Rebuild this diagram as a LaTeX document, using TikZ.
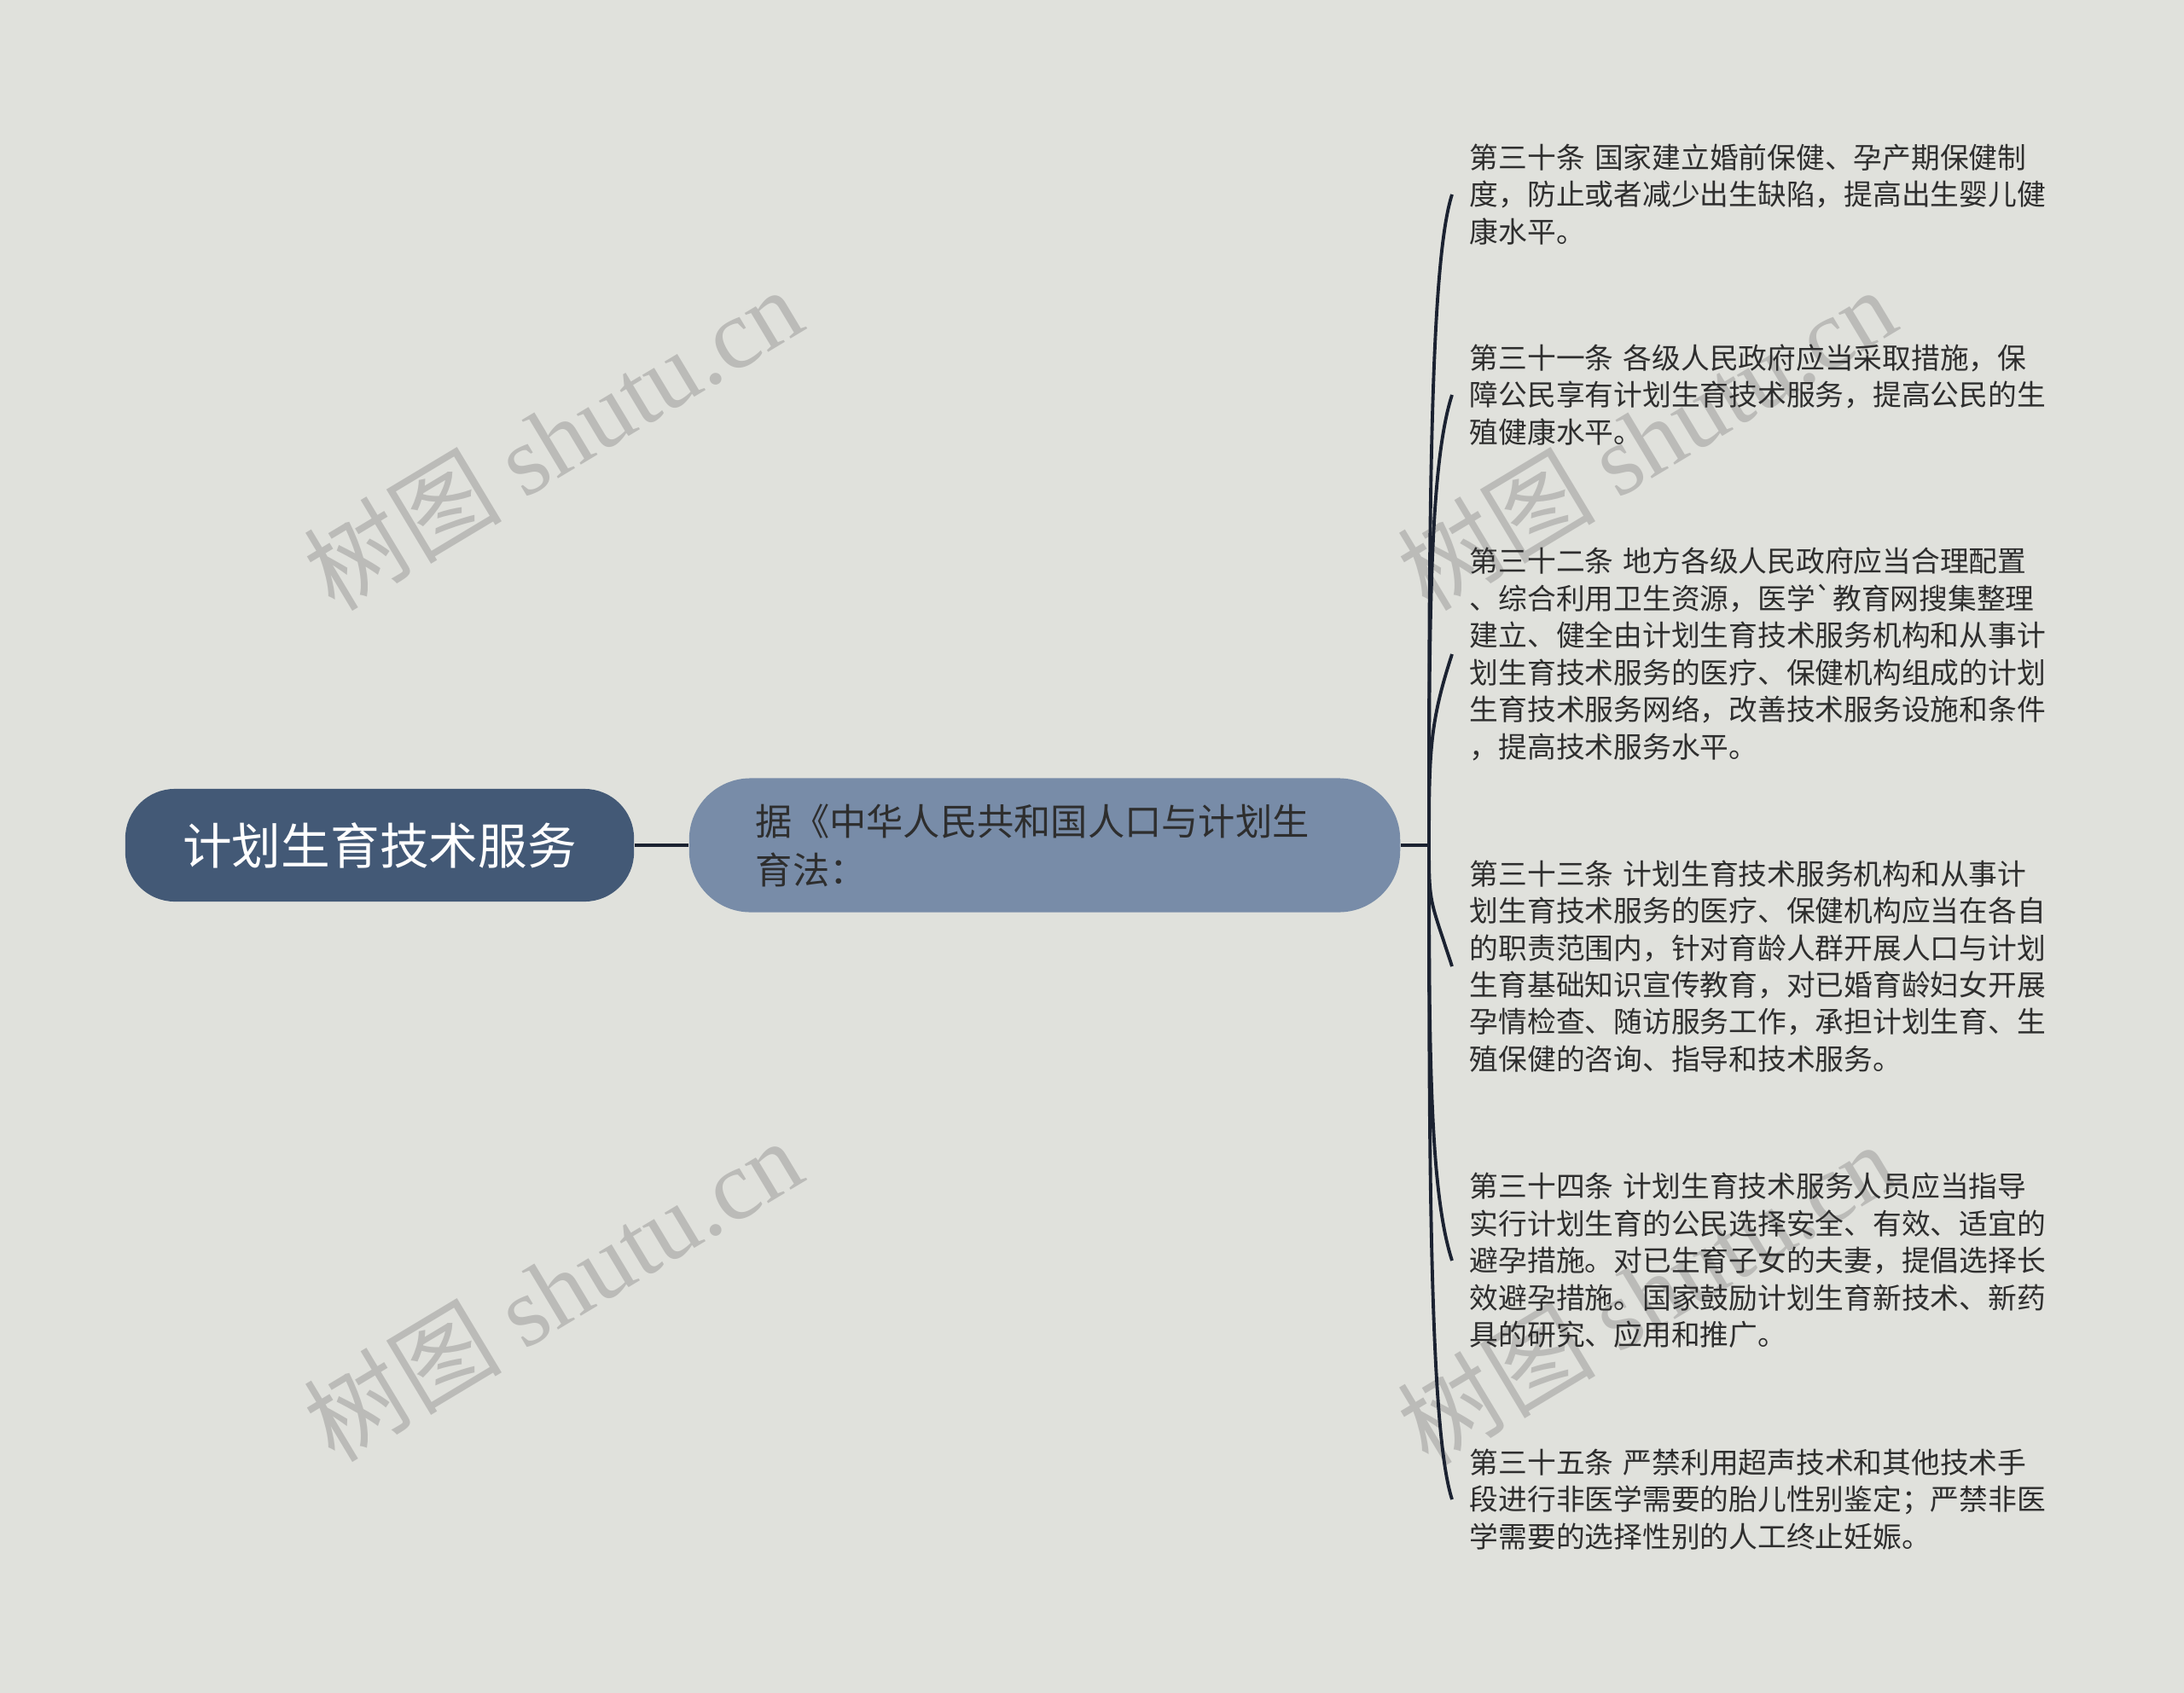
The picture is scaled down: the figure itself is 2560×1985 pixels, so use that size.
\documentclass[tikz,border=0pt]{standalone}
\usepackage{fontspec}
\setmainfont{Noto Sans CJK SC}
\newfontfamily\wmlatin{Liberation Serif}
\usepackage{tikz}
\usetikzlibrary{calc}

\definecolor{bgcol}{HTML}{E0E1DC}
\definecolor{rootcol}{HTML}{435976}
\definecolor{branchcol}{HTML}{788CA8}
\definecolor{linecol}{HTML}{1B2231}
\definecolor{txtcol}{HTML}{2E2E2E}
\definecolor{wmcol}{HTML}{BBBBB8}

\begin{document}
\begin{tikzpicture}[x=.01cm, y=.01cm,
    rootbox/.style={fill=rootcol, rounded corners=.58cm, minimum width=5.96cm,
        minimum height=1.32cm, text=white, font=\fontsize{16.4}{20}\selectfont},
    branchbox/.style={fill=branchcol, rounded corners=.72cm, minimum height=1.57cm,
        text width=6.77cm, inner xsep=.78cm, align=left, text=txtcol,
        font=\fontsize{12.3}{16.2}\selectfont},
    leaf/.style={anchor=west, text width=7.3cm, inner xsep=.2cm, inner ysep=0pt,
        align=left, text=txtcol, font=\fontsize{9.6}{12.35}\selectfont},
    link/.style={draw=linecol, line width=1.1pt},
    wm/.style={text=wmcol, rotate=31, font=\fontsize{33}{38}\selectfont}]

\useasboundingbox (0,0) rectangle (2560,-1985);
\fill[bgcol] (0,0) rectangle (2560,-1985);

%%%%%%%%%%%%%%%%% watermark
\node[wm] (wm1) at (648,-514) {树图 {\wmlatin shutu.cn}};
\node[wm] (wm2) at (648,-1512) {树图 {\wmlatin shutu.cn}};
\node[wm] (wm3) at (1930,-514) {树图 {\wmlatin shutu.cn}};
\node[wm] (wm4) at (1930,-1516) {树图 {\wmlatin shutu.cn}};

%%%%%%%%%%%%%%%%% root and branch
\node[rootbox] (jihua) at (445,-991) {计划生育技术服务};
\node[branchbox] (fa) at (1224.5,-991) {据《中华人民共和国人口与计划生\\育法：};
\coordinate (hub) at (1675,-991);

\draw[link] (jihua) -- (fa);
\draw[link] (fa) -- (hub);

%%%%%%%%%%%%%%%%% articles
\node[leaf] (t30) at (1702,-228) {第三十条 国家建立婚前保健、孕产期保健制\\度，防止或者减少出生缺陷，提高出生婴儿健\\康水平。};
\node[leaf] (t31) at (1702,-463) {第三十一条 各级人民政府应当采取措施，保\\障公民享有计划生育技术服务，提高公民的生\\殖健康水平。};
\node[leaf] (t32) at (1702,-767) {第三十二条 地方各级人民政府应当合理配置\\、综合利用卫生资源，医学\textasciigrave 教育网搜集整理\\建立、健全由计划生育技术服务机构和从事计\\划生育技术服务的医疗、保健机构组成的计划\\生育技术服务网络，改善技术服务设施和条件\\，提高技术服务水平。};
\node[leaf] (t33) at (1702,-1133) {第三十三条 计划生育技术服务机构和从事计\\划生育技术服务的医疗、保健机构应当在各自\\的职责范围内，针对育龄人群开展人口与计划\\生育基础知识宣传教育，对已婚育龄妇女开展\\孕情检查、随访服务工作，承担计划生育、生\\殖保健的咨询、指导和技术服务。};
\node[leaf] (t34) at (1702,-1478) {第三十四条 计划生育技术服务人员应当指导\\实行计划生育的公民选择安全、有效、适宜的\\避孕措施。对已生育子女的夫妻，提倡选择长\\效避孕措施。国家鼓励计划生育新技术、新药\\具的研究、应用和推广。};
\node[leaf] (t35) at (1702,-1758) {第三十五条 严禁利用超声技术和其他技术手\\段进行非医学需要的胎儿性别鉴定；严禁非医\\学需要的选择性别的人工终止妊娠。};

\draw[link] (hub) .. controls +(0,380) and +(-26,-80) .. (t30.west);
\draw[link] (hub) .. controls +(0,260) and +(-26,-80) .. (t31.west);
\draw[link] (hub) .. controls +(0,110) and +(-26,-80) .. (t32.west);
\draw[link] (hub) .. controls +(0,-70) and +(-26,80) .. (t33.west);
\draw[link] (hub) .. controls +(0,-240) and +(-26,80) .. (t34.west);
\draw[link] (hub) .. controls +(0,-380) and +(-26,80) .. (t35.west);

\end{tikzpicture}
\end{document}
